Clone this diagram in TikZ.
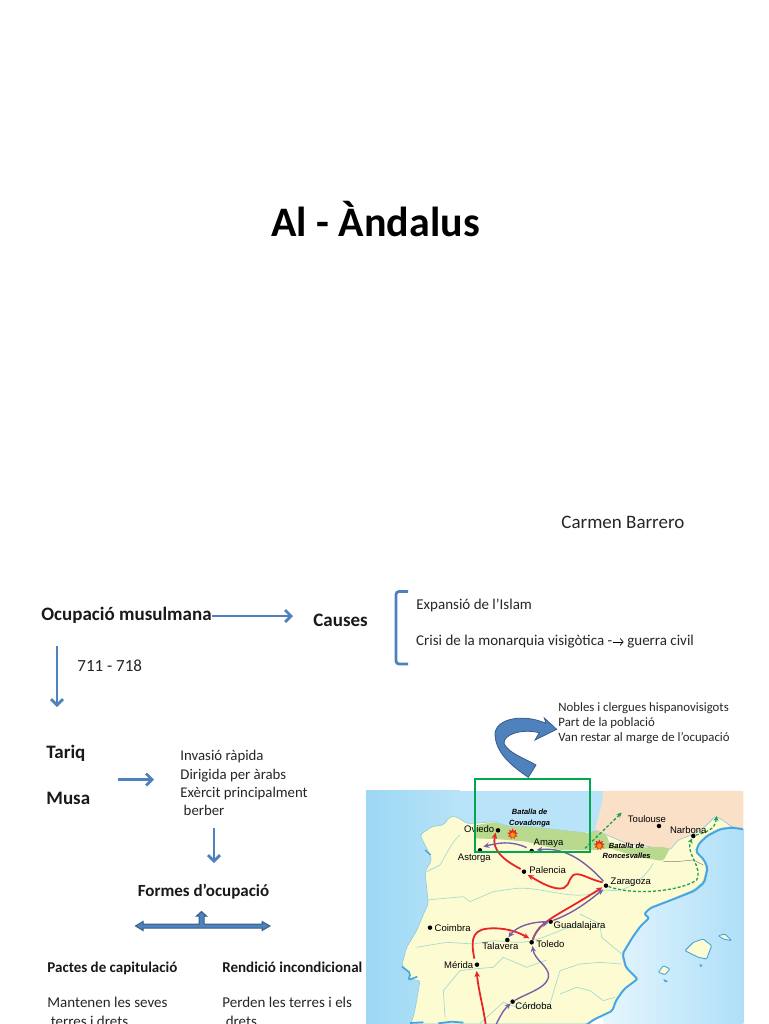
\documentclass[tikz,border=0pt]{standalone}
\usepackage{fontspec}
\setmainfont{Carlito}
\newfontfamily\mapfont{Liberation Sans}
\usetikzlibrary{shapes,arrows.meta,positioning,calc}
\definecolor{arrowblue}{HTML}{4F81BD}
\definecolor{arrowdark}{HTML}{385D8A}
\definecolor{coastblue}{HTML}{45A5E2}
\definecolor{coastpale}{HTML}{8CC8E0}
\definecolor{landcream}{HTML}{FDFBD2}
\definecolor{francepeach}{HTML}{FAE0C6}
\definecolor{stripgreen}{HTML}{B9DA8E}
\definecolor{riverblue}{HTML}{A5DCD2}
\definecolor{routered}{HTML}{E8262A}
\definecolor{routepurple}{HTML}{7A5FA8}
\definecolor{routegreen}{HTML}{1FA050}
\definecolor{framegreen}{HTML}{00A650}
\definecolor{seawest}{HTML}{9CD7F5}
\definecolor{seabay}{HTML}{B9E3F8}
\definecolor{seapale}{HTML}{E6F6FD}
\definecolor{seaeast}{HTML}{AEDFF8}

\begin{document}
\begin{tikzpicture}[
    x=1pt, y=-1pt,
    thick,
    flow/.style={
        draw=arrowblue, line width=2.8pt,
        -{Straight Barb[length=6pt, width=12pt, line width=2.8pt]}
    },
    plain/.style={
        font=\fontsize{17}{20}\selectfont, inner sep=0pt, anchor=west,
        text=black!85
    },
    small/.style={
        font=\fontsize{14.8}{18.4}\selectfont, inner sep=0pt, anchor=north west,
        align=left, text=black!85
    },
    heading/.style={
        font=\fontsize{19}{22}\selectfont\bfseries, inner sep=0pt, anchor=west,
        text=black!90
    },
    minihead/.style={
        font=\fontsize{15}{18}\selectfont\bfseries, inner sep=0pt, anchor=west,
        text=black!90
    },
    place/.style={
        font=\mapfont\fontsize{9.5}{10}\selectfont, inner sep=0pt, text=black
    },
    battle/.style={
        font=\mapfont\fontsize{7.5}{10.2}\selectfont\bfseries\itshape, inner sep=0pt,
        align=center, text=black
    },
    city/.style={circle, fill=black, inner sep=0pt, minimum size=4.5pt},
    redroute/.style={draw=routered, line width=1.8pt, -{Stealth[length=6pt, width=5.5pt]}},
    purpleroute/.style={draw=routepurple, line width=1.4pt, -{Stealth[length=6pt, width=5.5pt]}},
    greenroute/.style={draw=routegreen, line width=1.3pt, dash pattern=on 3pt off 2pt, -{Stealth[length=5pt, width=5pt]}},
    burst/.style={star, star points=9, star point ratio=1.7, inner sep=0pt, minimum size=11pt, fill=#1}
]

    \useasboundingbox (0,0) rectangle (768,1024);
    \fill[white] (0,0) rectangle (768,1024);

    % Title
    \node [font=\fontsize{42}{48}\selectfont\bfseries, inner sep=0pt] (title) at (375.5,219) {Al - Àndalus};
    \node [font=\fontsize{19}{22}\selectfont, inner sep=0pt, anchor=west, text=black!85] (author) at (561,522) {Carmen Barrero};

    % Occupation scheme
    \node [heading] (ocupacio) at (41,615) {Ocupació musulmana};
    \node [heading] (causes) at (313,620) {Causes};
    \node [plain] (years) at (77,666) {711 - 718};
    \node [small, anchor=west, font=\fontsize{15}{18}\selectfont] (expansio) at (416,605) {Expansió de l’Islam};
    \node [small, anchor=west, font=\fontsize{15}{18}\selectfont] (crisi) at (416,641.5) {Crisi de la monarquia visigòtica -\tikz[baseline]\draw[-{Straight Barb[length=3pt,width=7pt]},line width=.7pt,black] (0,3.5pt) -- (11pt,3.5pt); guerra civil};
    \coordinate (downend) at (57,707);
    \coordinate (tariqin) at (154,779.5);

    \node [heading] (tariq) at (46,753) {Tariq};
    \node [heading] (musa) at (46,798) {Musa};
    \node [small] (invasio) at (180,750) {Invasió ràpida\\Dirigida per àrabs\\Exèrcit principalment\\\ berber};
    \node [minihead, font=\fontsize{17}{20}\selectfont\bfseries, anchor=center] (formes) at (203.5,892) {Formes d’ocupació};
    \node [minihead] (pactes) at (47,968) {Pactes de capitulació};
    \node [minihead] (rendicio) at (222,967) {Rendició incondicional};
    \node [small, font=\fontsize{15}{19}\selectfont] (mantenen) at (47,997) {Mantenen les seves\\\ terres i drets.};
    \node [small, font=\fontsize{15}{19}\selectfont] (perden) at (222,997) {Perden les terres i els\\\ drets};
    \node [small, font=\fontsize{12.8}{15.3}\selectfont] (nobles) at (558,702) {Nobles i clergues hispanovisigots\\Part de la població\\Van restar al marge de l’ocupació};

    % Blue arrows
    \draw [flow] (ocupacio.east |- 0,616) -- (293,616);
    \draw [flow] (57,646) -- (downend);
    \draw [flow] (118,779.5) -- (tariqin);
    \draw [flow] (214,828) -- (214,863);
    \draw [draw=arrowblue, line width=2.8pt, rounded corners=3pt] (408,591.5) -- (396,591.5) -- (396,664) -- (408,664);

    % Block arrow under the heading
    \filldraw [fill=arrowblue, draw=arrowdark, line width=1pt]
        (135.5,926) -- (143,921.5) -- (143,924) -- (199,924) -- (199,916) -- (196.5,916) -- (201.5,911.5)
        -- (206.5,916) -- (204,916) -- (204,924) -- (262,924) -- (262,921.5) -- (270,926)
        -- (262,930.5) -- (262,928) -- (143,928) -- (143,930.5) -- cycle;

    % Map
    \begin{scope}[shift={(360,690)}, x=0.3333pt, y=-0.3333pt]
        \clip (18,303) rectangle (1150,1002);
        \shade [left color=seawest, right color=seabay] (18,303) rectangle (300,1002);
        \fill [seabay] (300,303) rectangle (1150,425);
        \shade [left color=seapale, right color=seaeast] (730,420) rectangle (1150,1002);

        % France
        \fill [francepeach] (730,303) -- (1150,303) -- (1150,415) -- (1115,410) -- (1080,385) -- (1065,380) -- (1030,415)
            -- (995,435) -- (955,450) -- (930,480) -- (900,475) -- (800,460) -- (740,435) -- (705,420) -- (725,345) -- cycle;

        % Iberia
        \filldraw [fill=landcream, draw=coastpale, line width=.6pt, rounded corners=2pt]
            (180,435) -- (215,410) -- (250,405) -- (270,380) -- (290,380) -- (320,400) -- (345,400) -- (400,395) -- (450,410)
            -- (510,410) -- (570,417) -- (690,430) -- (705,420) -- (740,435) -- (800,460) -- (900,475) -- (930,480)
            -- (955,450) -- (995,435) -- (1030,415) -- (1065,380) -- (1080,385) -- (1115,410) -- (1150,415)
            -- (1115,410) -- (1080,415) -- (1040,435) -- (1015,460) -- (1005,485) -- (1030,510) -- (1040,535) -- (1030,575)
            -- (1000,600) -- (940,625) -- (870,652) -- (850,672) -- (865,684) -- (840,707) -- (815,742) -- (785,792)
            -- (795,832) -- (830,867) -- (790,897) -- (765,932) -- (755,962) -- (700,987) -- (680,1002)
            -- (150,1002) -- (160,982) -- (170,932) -- (180,872) -- (145,867) -- (150,847) -- (125,827) -- (140,772)
            -- (170,722) -- (195,662) -- (205,642) -- (195,545) -- (215,510) -- (210,495) -- (195,465) -- cycle;

        % Coast shadow
        \draw [coastblue, line width=1.8pt, rounded corners=2pt] (1150,418) -- (1115,413) -- (1080,418) -- (1042,438) -- (1018,460)
            -- (1008,485) -- (1033,510) -- (1043,535) -- (1033,578) -- (1003,603) -- (940,628) -- (870,655) -- (853,672)
            -- (868,684) -- (843,707) -- (818,742) -- (788,792) -- (798,832) -- (833,867) -- (793,897) -- (768,932)
            -- (758,962) -- (700,990) -- (680,1005);
        \draw [coastblue, line width=1.6pt, rounded corners=2pt] (172,860) -- (145,870) -- (152,850) -- (126,830);
        \draw [coastblue, line width=1.8pt] (150,999) -- (190,997) (235,1000) -- (275,995) -- (310,998);
        \draw [coastblue, line width=1.4pt] (195,480) -- (212,495);

        % Green strip
        \fill [stripgreen, rounded corners=2pt] (345,435) -- (350,405) -- (400,397) -- (450,410) -- (510,410) -- (570,417) -- (690,430) -- (705,420)
            -- (740,435) -- (750,465) -- (800,475) -- (900,470) -- (930,475) -- (910,513) -- (870,507) -- (830,500) -- (750,475)
            -- (700,480) -- (600,480) -- (500,455) -- (420,448) -- (345,445) -- cycle;
        \draw [gray!80!brown, line width=.5pt] (910,515) -- (950,515) -- (1000,510) -- (1030,525);

        % Rivers
        \draw [riverblue, line width=.7pt] (200,545) -- (240,525) .. controls (260,490) and (280,450) .. (300,435);
        \draw [riverblue, line width=.7pt] (200,630) -- (310,620) -- (330,635) -- (400,605) -- (470,595) .. controls (560,590) and (640,640) .. (738,600);
        \draw [riverblue, line width=.7pt] (170,772) -- (260,757) -- (340,762) -- (400,752) -- (470,757) .. controls (530,760) and (590,720) .. (660,702);
        \draw [riverblue, line width=.7pt] (255,982) -- (250,902) -- (300,842) -- (340,837) -- (400,832) -- (430,802) -- (500,832) -- (560,810);
        \draw [riverblue, line width=.7pt] (360,1000) -- (430,937) -- (470,952) -- (570,942) -- (600,842);
        \draw [riverblue, line width=.7pt] (600,842) -- (660,822) -- (720,817) -- (785,822);
        \draw [riverblue, line width=.7pt] (785,792) -- (725,742) -- (720,702) -- (660,672);
        \draw [riverblue, line width=.7pt] (600,912) -- (650,892) -- (690,902) -- (730,932) -- (765,922);
        \draw [riverblue, line width=.7pt] (738,600) .. controls (800,610) and (850,570) .. (880,520);

        % Islands
        \filldraw [fill=landcream, draw=coastblue, line width=.9pt, rounded corners=1pt] (975,782) -- (1000,757) -- (1030,747) -- (1055,767) -- (1040,807) -- (1015,802) -- (995,792) -- cycle;
        \filldraw [fill=landcream, draw=coastblue, line width=.9pt, rounded corners=1pt] (1075,737) -- (1095,732) -- (1115,752) -- (1090,747) -- cycle;
        \filldraw [fill=landcream, draw=coastblue, line width=.9pt, rounded corners=1pt] (895,847) -- (910,827) -- (930,837) -- (915,854) -- cycle;
        \fill [coastblue] (910,867) -- (925,874) -- (915,877) -- cycle;
        \fill [coastblue] (1018,822) -- (1028,826) -- (1022,832) -- cycle;

        % Cities
        \node [city] (oviedo) at (414,421) {};
        \node [city] (amaya) at (515,483) {};
        \node [city] (astorga) at (360,481) {};
        \node [city] (palencia) at (492,545) {};
        \node [city] (zaragoza) at (738,587) {};
        \node [city] (guadalajara) at (572,695) {};
        \node [city] (toledo) at (515,757) {};
        \node [city] (talavera) at (442,750) {};
        \node [city] (coimbra) at (210,713) {};
        \node [city] (merida) at (351,824) {};
        \node [city] (cordoba) at (458,935) {};
        \node [city] (toulouse) at (897,408) {};
        \node [city] (narbona) at (1000,438) {};
        \coordinate (southred) at (378,1010);
        \coordinate (southpurple) at (405,1010);
        \coordinate (greenone) at (785,368);
        \coordinate (greenonestart) at (675,475);
        \coordinate (greentwo) at (1070,378);

        % Routes
        \draw [redroute] (southred) .. controls (370,950) and (355,900) .. (350,843);
        \draw [redroute] (merida) ++(-8,-18) .. controls (330,740) and (340,715) .. (400,715) .. controls (450,715) and (480,730) .. (508,745);
        \draw [redroute] (toledo) .. controls (540,690) and (590,680) .. (727,592);
        \draw [redroute] (zaragoza) ++(-10,-10) .. controls (690,570) and (660,545) .. (640,555) .. controls (620,575) and (630,600) .. (590,595) .. controls (560,590) and (530,570) .. (503,555);
        \draw [redroute] (palencia) ++(-10,-8) .. controls (430,510) and (395,480) .. (407,428);
        \draw [purpleroute] (southpurple) .. controls (420,980) and (430,960) .. (cordoba);
        \draw [purpleroute] (cordoba) .. controls (500,910) and (575,890) .. (565,850) .. controls (555,820) and (525,810) .. (517,768);
        \draw [purpleroute] (toledo) .. controls (525,730) and (540,705) .. (565,698);
        \draw [purpleroute] (guadalajara) ++(-5,0) .. controls (510,695) and (470,710) .. (445,742);
        \draw [purpleroute] (guadalajara) ++(8,-4) .. controls (640,670) and (690,630) .. (730,598);
        \draw [purpleroute] (zaragoza) ++(-8,-14) .. controls (680,520) and (620,470) .. (530,480);
        \draw [purpleroute] (amaya) ++(-15,-10) .. controls (450,450) and (410,460) .. (370,470);
        \draw [greenroute] (zaragoza) .. controls (830,620) and (970,600) .. (1010,570) .. controls (1030,530) and (975,490) .. (narbona);
        \draw [greenroute] (narbona) .. controls (1040,425) and (1065,420) .. (greentwo);
        \draw [greenroute] (greenonestart) -- (greenone);

        % Battle marks
        \node [burst=routered] (burstone) at (458,432) {};
        \node [burst=orange!80!yellow, minimum size=6pt] (burstonein) at (458,435) {};
        \node [burst=routered] (bursttwo) at (718,465) {};
        \node [burst=orange!80!yellow, minimum size=6pt] (bursttwoin) at (718,468) {};

        % Place names
        \node [place, anchor=east] (oviedolabel) at (404,418) {Oviedo};
        \node [place, anchor=west] (amayalabel) at (520,461) {Amaya};
        \node [place] (astorgalabel) at (343,506) {Astorga};
        \node [place, anchor=west] (palencialabel) at (507,541) {Palencia};
        \node [place, anchor=west] (zaragozalabel) at (751,576) {Zaragoza};
        \node [place, anchor=west] (guadalajaralabel) at (580,707) {Guadalajara};
        \node [place, anchor=west] (toledolabel) at (528,761) {Toledo};
        \node [place] (talaveralabel) at (421,769) {Talavera};
        \node [place, anchor=west] (coimbralabel) at (223,713) {Coimbra};
        \node [place, anchor=east] (meridalabel) at (341,824) {Mérida};
        \node [place, anchor=west] (cordobalabel) at (465,948) {Córdoba};
        \node [place] (toulouselabel) at (861,387) {Toulouse};
        \node [place] (narbonalabel) at (985,419) {Narbona};
        \node [battle] (covadonga) at (509,384) {Batalla de\\Covadonga};
        \node [battle] (roncesvalles) at (800,483) {Batalla de\\Roncesvalles};
    \end{scope}

    % Green frame and curved arrow
    \draw [draw=framegreen, line width=2pt] (475,779) rectangle (590,852);
    \begin{scope}[shift={(360,690)}, x=0.3333pt, y=-0.3333pt]
        \filldraw [fill=arrowblue, draw=arrowdark, line width=.8pt]
            (505,262) .. controls (450,225) and (405,185) .. (405,130) .. controls (410,85) and (490,70) .. (558,100)
            -- (553,84) -- (590,118) -- (525,150) -- (538,128) .. controls (480,115) and (430,135) .. (432,160)
            .. controls (445,190) and (495,205) .. (528,225) -- cycle;
    \end{scope}

\end{tikzpicture}
\end{document}
